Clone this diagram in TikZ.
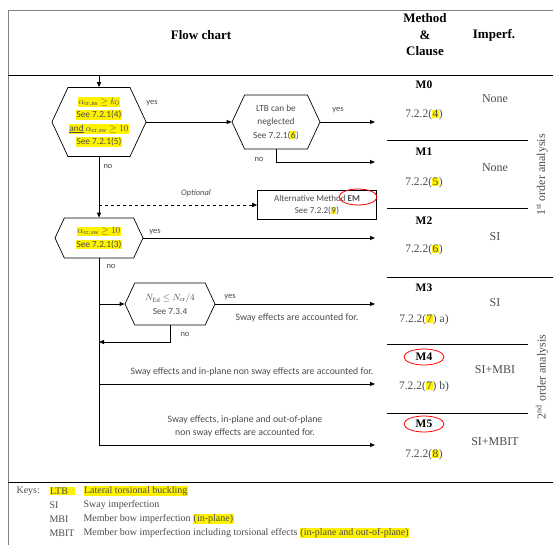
\documentclass[tikz,border=0pt]{standalone}
\usepackage{fontspec}
\setmainfont{Liberation Serif}
\newfontfamily\flowfont{Carlito}
\usetikzlibrary{positioning,shapes.symbols,arrows.meta}
\definecolor{txtgray}{RGB}{75,75,75}
\newcommand{\hly}[1]{{\setlength{\fboxsep}{0.5pt}\colorbox{yellow}{#1}}}
\tikzset{
  hexbox/.style={signal, signal to=east and west, signal pointer angle=130,
    draw, line width=0.7pt, align=center, inner sep=1pt, text=txtgray,
    font=\flowfont\fontsize{9.3}{13.5}\selectfont},
  optbox/.style={draw, line width=0.6pt, align=center, text=txtgray,
    minimum width=119pt, minimum height=29pt,
    font=\flowfont\fontsize{9}{12}\selectfont},
  lbl/.style={text=txtgray, font=\flowfont\fontsize{8.5}{9}\selectfont},
  note/.style={text=txtgray, align=center, font=\flowfont\fontsize{9.8}{13}\selectfont},
  head/.style={font=\bfseries\fontsize{13}{16.5}\selectfont, align=center},
  meth/.style={font=\bfseries\fontsize{11.5}{13}\selectfont},
  clause/.style={text=txtgray, font=\fontsize{11.5}{13}\selectfont},
  imp/.style={text=txtgray, font=\fontsize{12}{13}\selectfont},
  keytxt/.style={anchor=west, text=txtgray, font=\fontsize{10}{11}\selectfont},
  redmark/.style={red, line width=0.8pt}
}
\begin{document}
\begin{tikzpicture}[x=1pt,y=-1pt,>={Triangle[length=5pt,width=4pt]}]
\useasboundingbox (0,0) rectangle (553,545);

% Frame and header
\draw[gray, line width=0.8pt] (8,545) -- (8,10) -- (553,10);
\draw[line width=0.8pt] (8,75) -- (553,75);
\draw[line width=0.8pt] (8,482) -- (553,482);
\node[head] (hflow) at (201,35) {Flow chart};
\node[head] (hmeth) at (425,35) {Method\\\&\\Clause};
\node[head] (himp) at (494,35) {Imperf.};

% Define coordinates
\coordinate (top) at (99,75);      % entry of the chart
\coordinate (tip) at (375,0);      % x of all arrow tips on the right
\coordinate (opt) at (99,205);     % start of optional branch
\coordinate (b3) at (99,304);      % branch to N check
\coordinate (back) at (99,342);    % return from N check
\coordinate (b4) at (99,384);      % branch to M4
\coordinate (toM1) at (375,162);
\coordinate (toM4) at (375,384);
\coordinate (toM5) at (375,445);

% Decision boxes
\node[hexbox, minimum width=88pt, minimum height=69pt] (crit) at (99,122)
  {\hly{$\alpha_{\mathrm{cr,ns}}\geq k_0$}\\\hly{See 7.2.1(4)}\\
   \hly{\underline{and} $\alpha_{\mathrm{cr,sw}}\geq 10$}\\\hly{See 7.2.1(5)}};
\node[hexbox, minimum width=88pt, minimum height=54pt] (ltb) at (276,122)
  {LTB can be\\neglected\\See 7.2.1(\hly{6})};
\node[hexbox, minimum width=88pt, minimum height=40pt] (sway) at (99,238)
  {\hly{$\alpha_{\mathrm{cr,sw}}\geq 10$}\\\hly{See 7.2.1(3)}};
\node[hexbox, minimum width=90pt, minimum height=42pt] (ncr) at (170,304)
  {$N_{\mathrm{Ed}}\leq N_{\mathrm{cr}}/4$\\See 7.3.4};
\node[optbox] (em) at (317,205) {Alternative Method \textbf{EM}\\See 7.2.2(\hly{9})};

% Connectors
\draw[line width=0.8pt, ->] (top) -- (crit.north);
\draw[line width=0.8pt, ->] (crit.east) -- (ltb.west);
\draw[line width=0.8pt, ->] (ltb.east) -- (ltb.east -| tip);
\draw[line width=0.8pt, ->] (ltb.south) |- (toM1);
\draw[line width=0.8pt, ->] (crit.south) -- (sway.north);
\draw[line width=0.6pt, dashed, ->] (opt) -- (em.west);
\draw[line width=0.8pt, ->] (sway.east) -- (sway.east -| tip);
\draw[line width=0.8pt, ->] (sway.south) |- (toM5);
\draw[line width=0.8pt, ->] (b3) -- (ncr.west);
\draw[line width=0.8pt, ->] (ncr.east) -- (ncr.east -| tip);
\draw[line width=0.8pt, ->] (ncr.south) |- (back);
\draw[line width=0.8pt, ->] (b4) -- (toM4);

% Branch labels
\node[lbl] (y1) at (152,103) {yes};
\node[lbl] (n1) at (108,166) {no};
\node[lbl] (y2) at (338,110) {yes};
\node[lbl] (n2) at (259,159) {no};
\node[lbl] (y3) at (155,232) {yes};
\node[lbl] (n3) at (111,266) {no};
\node[lbl] (y4) at (230,297) {yes};
\node[lbl] (n4) at (185,334) {no};
\node[lbl, font=\flowfont\itshape\fontsize{8.5}{9}\selectfont] (optl) at (196,193) {Optional};
\node[note] (s3) at (297,318) {Sway effects are accounted for.};
\node[note] (s4) at (252,372) {Sway effects and in-plane non sway effects are accounted for.};
\node[note] (s5) at (245,426) {Sway effects, in-plane and out-of-plane\\non sway effects are accounted for.};

% Method and imperfection columns
\foreach \y in {140,208,344,413} \draw[line width=0.8pt] (387,\y) -- (528,\y);
\draw[line width=0.8pt] (387,277) -- (553,277);
\node[meth] (m0) at (424,85) {M0};
\node[clause] (c0) at (424,115) {7.2.2(\hly{4})};
\node[meth] (m1) at (424,152) {M1};
\node[clause] (c1) at (424,183) {7.2.2(\hly{5})};
\node[meth] (m2) at (424,221) {M2};
\node[clause] (c2) at (424,250) {7.2.2(\hly{6})};
\node[meth] (m3) at (424,288) {M3};
\node[clause] (c3) at (424,320) {7.2.2(\hly{7}) a)};
\node[meth] (m4) at (424,357) {M4};
\node[clause] (c4) at (424,387) {7.2.2(\hly{7}) b)};
\node[meth] (m5) at (424,424) {M5};
\node[clause] (c5) at (424,455) {7.2.2(\hly{8})};
\node[imp] (i0) at (495,99) {None};
\node[imp] (i1) at (495,168) {None};
\node[imp] (i2) at (495,237) {SI};
\node[imp] (i3) at (495,303) {SI};
\node[imp] (i4) at (495,370) {SI+MBI};
\node[imp] (i5) at (495,442) {SI+MBIT};
\node[imp, rotate=90] (first) at (542,175) {1\textsuperscript{st} order analysis};
\node[imp, rotate=90] (second) at (542,377) {2\textsuperscript{nd} order analysis};

% Red marks
\draw[redmark] (358,197) ellipse [x radius=19pt, y radius=8pt];
\draw[redmark] (424,357) ellipse [x radius=20pt, y radius=8pt];
\draw[redmark] (424,424) ellipse [x radius=20pt, y radius=8pt];

% Keys
\node[keytxt] (k0) at (13,491) {Keys:};
\node[keytxt] (k1) at (46,491) {\hly{LTB\hspace{6pt}}};
\node[keytxt] (k1t) at (80,491) {\hly{Lateral torsional buckling}};
\node[keytxt] (k2) at (46,505) {SI};
\node[keytxt] (k2t) at (80,505) {Sway imperfection};
\node[keytxt] (k3) at (46,519) {MBI};
\node[keytxt] (k3t) at (80,519) {Member bow imperfection \hly{(in-plane)}};
\node[keytxt] (k4) at (46,533) {MBIT};
\node[keytxt] (k4t) at (80,533) {Member bow imperfection including torsional effects \hly{(in-plane and out-of-plane)}};

\end{tikzpicture}
\end{document}
